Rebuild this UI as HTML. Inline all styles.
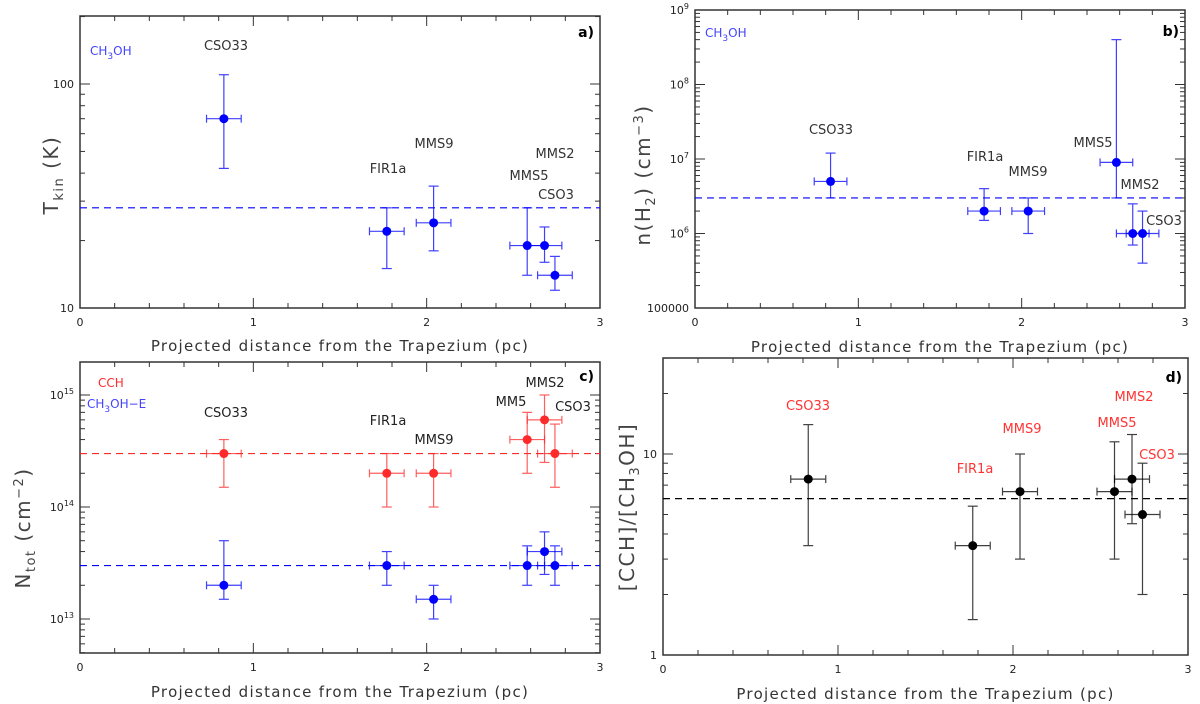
<!DOCTYPE html>
<html><head><meta charset="utf-8"><style>
body{margin:0;background:#fff;}
svg{display:block;font-family:"DejaVu Sans","Liberation Sans",sans-serif;}
</style></head><body>
<svg id="fig" width="1200" height="704" viewBox="0 0 1200 704" xmlns="http://www.w3.org/2000/svg"></svg>
<script>
const sources=["CSO33","FIR1a","MMS9","MMS5","MMS2","CSO3"];
const distance=[0.83,1.77,2.04,2.58,2.68,2.74];
const distErr=[0.1,0.1,0.1,0.1,0.1,0.1];
// panel a
const tkin=[70,22,24,19,19,14];
const tkinLo=[42,15,18,14,16,12];
const tkinHi=[110,28,35,28,23,17];
const tkinMean=28;
// panel b
const nh2=[5e6,2e6,2e6,9e6,1e6,1e6];
const nh2Lo=[3e6,1.5e6,1e6,3e6,7e5,4e5];
const nh2Hi=[1.2e7,4e6,3e6,4e8,2.5e6,2e6];
const nh2Mean=3e6;
// panel c
const ncch=[3e14,2e14,2e14,4e14,6e14,3e14];
const ncchLo=[1.5e14,1e14,1e14,2e14,2.5e14,1.5e14];
const ncchHi=[4e14,3e14,3e14,7e14,1e15,5.5e14];
const ncchMean=3e14;
const nme=[2e13,3e13,1.5e13,3e13,4e13,3e13];
const nmeLo=[1.5e13,2e13,1e13,2e13,2.5e13,2e13];
const nmeHi=[5e13,4e13,2e13,4.5e13,6e13,4.5e13];
const nmeMean=3e13;
// panel d
const ratio=[7.5,3.5,6.5,6.5,7.5,5];
const ratioLo=[3.5,1.5,3,3,4.5,2];
const ratioHi=[14,5.5,10,11.5,12.5,9];
const ratioMean=6;

const NS="http://www.w3.org/2000/svg";
const svg=document.getElementById('fig');
function mk(tag,attrs,parent,text){const e=document.createElementNS(NS,tag);for(const k in attrs)e.setAttribute(k,attrs[k]);if(text!==undefined)e.textContent=text;(parent||svg).appendChild(e);return e;}

function panel(P){
  const g=mk('g',{});
  
  
  const X=v=>P.x0+(v/3)*(P.x1-P.x0);
  const Y=v=>P.y1-(Math.log10(v)-P.lmin)/(P.lmax-P.lmin)*(P.y1-P.y0);
  P.X=X;P.Y=Y;
  const fr=mk('rect',{x:P.x0,y:P.y0,width:P.x1-P.x0,height:P.y1-P.y0,fill:'none',stroke:'#333','stroke-width':1.5},g);
  
  
  for(let i=0;i<=15;i++){const v=i*0.2;const major=i%5===0;const L=major?10:5;const x=X(v);
    mk('line',{x1:x,x2:x,y1:P.y1,y2:P.y1-L,stroke:'#333'},g);
    mk('line',{x1:x,x2:x,y1:P.y0,y2:P.y0+L,stroke:'#333'},g);
    if(major){const t=mk('text',{x:x,y:P.y1+18,'font-size':11,'text-anchor':'middle',fill:'#222'},g,String(v));
      
      }
  }
  for(let d=Math.floor(P.lmin);d<=Math.ceil(P.lmax);d++){
    for(let m=1;m<10;m++){const lv=d+Math.log10(m);if(lv<P.lmin-1e-9||lv>P.lmax+1e-9)continue;
      const y=Y(Math.pow(10,lv));const L=m===1?10:5;
      mk('line',{x1:P.x0,x2:P.x0+L,y1:y,y2:y,stroke:'#333'},g);
      mk('line',{x1:P.x1,x2:P.x1-L,y1:y,y2:y,stroke:'#333'},g);
    }
  }
  P.yticks.forEach((lab,i)=>{const y=Y(P.ytickVals[i]);
    const t=mk('text',{x:P.x0-6,y:y+4,'font-size':11,'text-anchor':'end',fill:'#222'},g);
    
    
    if(lab.indexOf('^')>=0){const [b,e]=lab.split('^');t.textContent=b;mk('tspan',{dy:-5,'font-size':8},t,e);}else t.textContent=lab;
  });
  const xt=mk('text',{x:(P.x0+P.x1)/2,y:P.xtY,'font-size':15,'text-anchor':'middle',fill:'#333','letter-spacing':'1.3'},g,'Projected distance from the Trapezium (pc)');
  
  
  const yt=mk('text',{transform:`translate(${P.ytX},${P.ytC}) rotate(-90)`,'font-size':20,'text-anchor':'middle',fill:'#444','letter-spacing':'1.5'},g);
  
  
  P.ytitle(yt);
  const pl=mk('text',{x:P.x1-6,y:P.lY,'font-size':14,'text-anchor':'end',fill:'#000','font-weight':'bold'},g,P.letter);
  
  
  return g;
}
function series(P,g,vals,lo,hi,mean,color,name){
  const hl=mk('line',{x1:P.x0,x2:P.x1,y1:P.Y(mean),y2:P.Y(mean),stroke:color,'stroke-dasharray':'7,5','stroke-width':1.2},g);
  
  
  vals.forEach((v,i)=>{
    const x=P.X(distance[i]),y=P.Y(v);const xl=P.X(distance[i]-distErr[i]),xr=P.X(distance[i]+distErr[i]);
    const yl=P.Y(lo[i]),yh=P.Y(hi[i]);
    const eg=mk('g',{stroke:color,'stroke-width':1.2,opacity:0.75},g);
    
    
    mk('line',{x1:x,x2:x,y1:yl,y2:yh},eg);
    mk('line',{x1:x-5,x2:x+5,y1:yl,y2:yl},eg);
    mk('line',{x1:x-5,x2:x+5,y1:yh,y2:yh},eg);
    mk('line',{x1:xl,x2:xr,y1:y,y2:y},eg);
    mk('line',{x1:xl,x2:xl,y1:y-4,y2:y+4},eg);
    mk('line',{x1:xr,x2:xr,y1:y-4,y2:y+4},eg);
    const c=mk('circle',{cx:x,cy:y,r:4.5,fill:color},g);
    
    
  });
}
function labels(g,list,color){
  list.forEach(([txt,x,y])=>{const t=mk('text',{x:x,y:y,'font-size':13,'text-anchor':'middle',fill:color},g,txt);
    
    });
}
function sub(t,parts){parts.forEach(p=>{mk('tspan',p[1]?{dy:p[1],'font-size':p[2]||'1em'}:{},t,p[0]);});}

// Panel a
const A={name:'panel-a-tkin',x0:80,x1:600,y0:16,y1:308,lmin:1,lmax:1+292/224,yticks:['10','100'],ytickVals:[10,100],xtY:351,ytX:58,ytC:175,lY:37,letter:'a)',
 ytitle:t=>{sub(t,[['T'],['kin',5,13],['  (K)',-5,20]]);}};
const ga=panel(A);
series(A,ga,tkin,tkinLo,tkinHi,tkinMean,'#0000ff','tkin');
labels(ga,[['CSO33',226,50],['FIR1a',388,173],['MMS9',434,148],['MMS5',529,180],['MMS2',555,158],['CSO3',556,199]],'#333');
let m=mk('text',{x:90,y:55,'font-size':12,fill:'#4444ff'},ga);sub(m,[['CH'],['3',4,9],['OH',-4,12]]);



// Panel b
const B={name:'panel-b-density',x0:695,x1:1185,y0:10,y1:308,lmin:5,lmax:9,yticks:['100000','10^6','10^7','10^8','10^9'],ytickVals:[1e5,1e6,1e7,1e8,1e9],xtY:352,ytX:650,ytC:175,lY:36,letter:'b)',
 ytitle:t=>{sub(t,[['n(H'],['2',5,13],[')  (cm',-5,20],['−3',-7,13],[')',7,20]]);}};
const gb=panel(B);
series(B,gb,nh2,nh2Lo,nh2Hi,nh2Mean,'#0000ff','nh2');
labels(gb,[['CSO33',831,134],['FIR1a',985,161],['MMS9',1028,176],['MMS5',1093,147],['MMS2',1140,189],['CSO3',1164,225]],'#333');
m=mk('text',{x:705,y:37,'font-size':12,fill:'#4444ff'},gb);sub(m,[['CH'],['3',4,9],['OH',-4,12]]);



// Panel c
const C={name:'panel-c-column-density',x0:80,x1:600,y0:362,y1:653,lmin:13-34/112,lmax:15+33/112,yticks:['10^13','10^14','10^15'],ytickVals:[1e13,1e14,1e15],xtY:697,ytX:30,ytC:528,lY:381,letter:'c)',
 ytitle:t=>{sub(t,[['N'],['tot',5,13],['  (cm',-5,20],['−2',-7,13],[')',7,20]]);}};
const gc=panel(C);
series(C,gc,ncch,ncchLo,ncchHi,ncchMean,'#ff2a2a','cch');
series(C,gc,nme,nmeLo,nmeHi,nmeMean,'#0000ff','ch3oh-e');
labels(gc,[['CSO33',226,417],['FIR1a',388,425],['MMS9',434,444],['MM5',511,406],['MMS2',545,387],['CSO3',573,411]],'#222');
m=mk('text',{x:98,y:387,'font-size':12,fill:'#ff2a2a'},gc,'CCH');


m=mk('text',{x:87,y:408,'font-size':12,fill:'#4444ff'},gc);sub(m,[['CH'],['3',4,9],['OH−E',-4,12]]);



// Panel d
const D={name:'panel-d-ratio',x0:663,x1:1188,y0:358,y1:655,lmin:0,lmax:1+(454-358)/201,yticks:['1','10'],ytickVals:[1,10],xtY:699,ytX:634,ytC:507,lY:382,letter:'d)',
 ytitle:t=>{sub(t,[['[CCH]/[CH'],['3',5,13],['OH]',-5,20]]);}};
const gd=panel(D);
series(D,gd,ratio,ratioLo,ratioHi,ratioMean,'#000','ratio');
labels(gd,[['CSO33',808,410],['FIR1a',975,473],['MMS9',1022,433],['MMS5',1117,427],['MMS2',1134,401],['CSO3',1157,459]],'#ff3333');
</script>
</body></html>
